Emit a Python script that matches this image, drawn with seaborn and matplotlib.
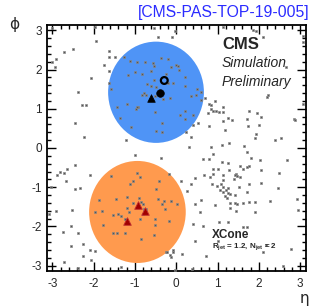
import numpy as np
import pandas as pd
import matplotlib
matplotlib.use("Agg")
import matplotlib.pyplot as plt
import seaborn as sns
from matplotlib.patches import Ellipse
from matplotlib.ticker import MultipleLocator

# ---- data (eta, phi) ----
particle_eta = [
    -3.00, -1.97, -0.55, -0.02, -0.10, -0.44, -1.94, -2.49, -2.73, -1.62, -2.91, -3.00, -2.93,
    -1.64, -1.49, -1.27, -1.75, -1.62, -2.06, -2.39, -2.28, -2.19, -1.13, -0.96, -0.75, -0.57,
    -0.38, -0.20, -0.54, -0.13, 0.00, -0.60, -0.99, -0.84, -1.17, -0.26, -0.54, -0.72, -0.60,
    -0.20, -0.09, -0.49, -1.57, -1.62, -0.78, -0.84, -0.73, -0.51, -0.33, -0.15, -1.20, -1.43, -0.92,
    1.12, 1.87, 1.93, 2.11, 3.08, 3.08, 0.04, 0.06, 0.22, 0.20, 0.51, 0.59, 0.35, 0.48, 0.61,
    0.70, 0.79, 0.83, 0.95, 1.12, 2.22, 2.20, 2.65, 3.08,
    -2.46, -2.23, -1.22, -0.99, -0.36, -2.44, -2.65, -2.81, -2.71, -2.88, -2.10, -2.67, -3.04,
    -2.44, -2.33, -1.36, -0.97, -0.94, -0.52, -0.34, -0.49, -0.34, -1.09, -1.57, -0.94, -0.88,
    -1.04, -1.13, -0.42, -0.49, -0.18,
    0.22, 0.08, 0.41, 0.22, 0.53, 0.40, 0.24, 0.35, 0.31, 0.83, 0.77, 0.90, 0.96, 1.03, 1.12,
    1.77, 1.96, 2.06, 1.25, 1.36, 1.12, 1.71, 0.79, 1.17, 1.74, 2.01, 2.84, 2.87, 1.93, 1.91,
    2.38, 2.54, 1.11, 1.27, 0.85, 1.64, 1.72, 0.88, 1.80, 0.64, 0.79, 2.03, 2.68, 1.11, 1.25,
    1.77, 1.54, 0.88, 1.01, 1.27, 1.61, 1.71, 2.05, 2.48, 0.66, 0.82, 0.88, 1.12, 1.45, 1.42,
    1.47, 1.54, 0.46, 1.12, 1.39, 0.12, 0.35, 0.86, 0.98, 1.08, 1.25, 1.14, 1.53, 1.77, 2.06, 2.46,
    0.03, 0.46, 0.27, 0.61, 0.57, 0.93, 1.07, 1.12, 1.20, 1.25, 1.17, 1.22, 1.30, 1.43, 1.30,
    1.42, 1.48, 1.30, 1.45, 1.62, 1.77, 1.90, 1.71, 2.27, 1.90, 2.93, 2.95, 1.04, 1.25, 0.41,
    0.64, 1.61, 1.71, 0.46, 2.09, 2.17, 2.77, 0.14, 0.72, 2.59, 0.38, 1.00,
    -3.07, -2.91, -2.52, -2.54, -2.75, -2.38, -2.27, -2.54, -2.10, -1.96, -2.27, -2.07, -2.73,
    -2.37, -1.33, -1.86, -1.47, -1.20, -0.91, -1.04, -0.86, -0.81, -0.78, -0.73, -0.80, -0.44,
    -0.30, -0.12, -0.34, -0.28, -1.97, -1.80, -1.54, -1.42, -1.33, -1.20, -1.15, -1.25, -0.88,
    -0.51, -0.17, -1.77, -0.52, -1.54, -1.43, -1.23, -0.55, -0.86, -0.26, -0.22, -0.14, -0.09,
    -0.07, -0.12, -0.04,
]
particle_phi = [
    3.06, 3.09, 3.06, 2.99, 2.84, 2.82, 2.72, 2.53, 2.45, 2.48, 2.28, 2.19, 2.06,
    2.31, 2.31, 2.33, 2.11, 1.97, 1.78, 1.43, 1.09, 1.10, 2.21, 2.19, 2.19, 2.16,
    2.29, 2.26, 2.09, 2.06, 2.11, 1.97, 1.94, 1.89, 1.85, 1.89, 1.73, 1.63, 1.58,
    1.66, 1.66, 1.55, 1.51, 1.66, 1.41, 1.36, 1.34, 1.32, 1.26, 1.27, 1.12, 1.05, 1.05,
    3.09, 3.01, 2.99, 2.84, 2.85, 2.70, 2.09, 2.00, 1.82, 1.58, 1.50, 1.43, 1.32, 1.36, 1.22,
    1.27, 1.12, 1.09, 1.19, 1.04, 1.36, 1.29, 2.07, 1.12,
    0.63, 0.27, 0.20, -0.17, -0.25, -0.44, -0.53, -0.61, -0.63, -0.68, -0.70, -0.83, -0.99,
    -1.04, -1.03, 0.76, 0.99, 1.04, 0.92, 0.64, 0.43, 0.41, 0.54, -0.71, -0.63, -0.73,
    -0.83, -0.92, -0.85, -1.05, -0.66,
    0.95, 0.83, 0.83, 0.73, 0.64, 0.59, 0.42, 0.29, 0.02, 1.00, 0.88, 0.95, 0.93, 0.92, 0.92,
    0.93, 0.88, 0.78, 0.76, 0.71, 0.70, 0.75, 0.56, 0.46, 0.56, 0.58, 0.73, 0.71, 0.36, 0.25,
    0.20, 0.25, 0.08, 0.12, 0.02, 0.05, -0.10, -0.15, -0.25, -0.29, -0.29, -0.31, -0.31, -0.36, -0.39,
    -0.46, -0.46, -0.54, -0.54, -0.56, -0.53, -0.48, -0.56, -0.63, -0.68, -0.73, -0.66, -0.68, -0.65, -0.69,
    -0.71, -0.75, -0.76, -0.82, -0.78, -0.85, -0.93, -0.93, -0.97, -0.93, -1.02, -1.00, -1.00, -0.93, -0.90, -1.02,
    -1.43, -1.43, -1.09, -1.32, -1.63, -1.46, -1.06, -1.11, -1.07, -1.14, -1.22, -1.27, -1.17, -1.19, -1.40,
    -1.40, -1.43, -1.53, -1.60, -1.40, -1.38, -1.38, -1.11, -1.35, -1.64, -1.31, -1.57, -1.88, -1.89, -1.94,
    -1.99, -2.01, -2.01, -2.37, -2.64, -2.47, -2.57, -2.71, -2.74, -3.00, -3.08, -2.38,
    -1.67, -1.60, -1.58, -1.99, -2.14, -2.17, -2.45, -2.50, -2.59, -2.62, -2.74, -2.85, -2.90,
    -3.07, -3.02, -1.32, -1.29, -1.26, -1.27, -1.41, -1.38, -1.43, -1.56, -1.56, -1.67, -1.29,
    -1.34, -1.36, -1.43, -1.55, -1.63, -1.60, -1.70, -1.68, -1.74, -1.53, -1.63, -1.80, -1.82,
    -1.80, -1.86, -1.96, -1.96, -2.16, -2.17, -2.16, -2.21, -2.31, -2.65, -2.65, -2.72, -2.64,
    -2.59, -2.78, -3.10,
]

# jet areas (centre eta, centre phi, half-extent in eta, half-extent in phi)
jet_names = ["jet 1", "jet 2"]
jet_eta = [-0.49, -0.94]
jet_phi = [1.42, -1.63]
jet_reta = [1.16, 1.17]
jet_rphi = [1.29, 1.30]
jet_colors = ["#4f94f6", "#ff9a4e"]

# objects
open_circle_eta = [-0.29]
open_circle_phi = [1.72]
filled_circle_eta = [-0.39]
filled_circle_phi = [1.41]
black_tri_eta = [-0.61]
black_tri_phi = [1.27]
red_tri_eta = [-0.93, -0.75, -1.19]
red_tri_phi = [-1.46, -1.61, -1.87]

# ---- figure ----
sns.set_style("ticks")
plt.rcParams["font.family"] = ["Liberation Sans", "DejaVu Sans"]
plt.rcParams["mathtext.default"] = "regular"
plt.rcParams["axes.unicode_minus"] = False

fig = plt.figure(figsize=(3.13, 3.08), dpi=100)
ax = fig.add_axes([0.1486, 0.1192, 0.829, 0.8006])

for e, p, re, rp, c in zip(jet_eta, jet_phi, jet_reta, jet_rphi, jet_colors):
    ax.add_patch(Ellipse((e, p), 2 * re, 2 * rp, facecolor=c, edgecolor="none", lw=0, zorder=1))

df = pd.DataFrame({"eta": particle_eta, "phi": particle_phi})
sns.scatterplot(data=df, x="eta", y="phi", marker="s", s=2.6, color="#555555",
                edgecolor="#8a8a8a", linewidth=0.45, ax=ax, zorder=3, legend=False)

sns.scatterplot(x=open_circle_eta, y=open_circle_phi, marker="o", s=24, facecolor="none",
                edgecolor="black", linewidth=1.6, ax=ax, zorder=5, legend=False)
sns.scatterplot(x=filled_circle_eta, y=filled_circle_phi, marker="o", s=30, color="black",
                edgecolor="black", linewidth=0.5, ax=ax, zorder=5, legend=False)
sns.scatterplot(x=black_tri_eta, y=black_tri_phi, marker="^", s=30, color="black",
                edgecolor="black", linewidth=0.5, ax=ax, zorder=5, legend=False)
sns.scatterplot(x=red_tri_eta, y=red_tri_phi, marker="^", s=30, color="#a00000",
                edgecolor="#c03030", linewidth=0.6, ax=ax, zorder=5, legend=False)

ax.set_xlim(-np.pi, np.pi)
ax.set_ylim(-np.pi, np.pi)
ax.set_xlabel("")
ax.set_ylabel("")
ax.set_xticks(range(-3, 4))
ax.set_yticks(range(-3, 4))
ax.xaxis.set_minor_locator(MultipleLocator(0.2))
ax.yaxis.set_minor_locator(MultipleLocator(0.2))
ax.tick_params(which="both", direction="in", top=True, right=True, width=1.0, color="black")
ax.tick_params(which="major", length=6.5, labelsize=8.5)
ax.tick_params(axis="x", which="major", pad=5)
ax.tick_params(axis="y", which="major", pad=3.5)
ax.tick_params(which="minor", length=3.2)
for s in ax.spines.values():
    s.set_linewidth(1.3)
    s.set_color("black")

# texts
ax.text(0.676, 0.901, "CMS", transform=ax.transAxes, fontsize=12, fontweight="bold", va="baseline")
ax.text(0.676, 0.83, "Simulation", transform=ax.transAxes, fontsize=10, style="italic", va="baseline")
ax.text(0.676, 0.753, "Preliminary", transform=ax.transAxes, fontsize=10, style="italic", va="baseline")
ax.text(0.638, 0.135, "XCone", transform=ax.transAxes, fontsize=8.5, fontweight="bold", va="baseline")
ax.text(0.638, 0.097, r"R$_{jet}$ = 1.2, N$_{jet}$ = 2", transform=ax.transAxes, fontsize=5.8,
        fontweight="bold", va="baseline")

fig.text(0.990, 0.958, "[CMS-PAS-TOP-19-005]", ha="right", va="center", fontsize=11.3, color="#2b2bff")
fig.text(0.045, 0.919, "ϕ", ha="center", va="center", fontsize=11, family=["DejaVu Sans"])
fig.text(0.974, 0.032, "η", ha="center", va="center", fontsize=11, family=["DejaVu Sans"])

fig.savefig("out.png", dpi=100)
